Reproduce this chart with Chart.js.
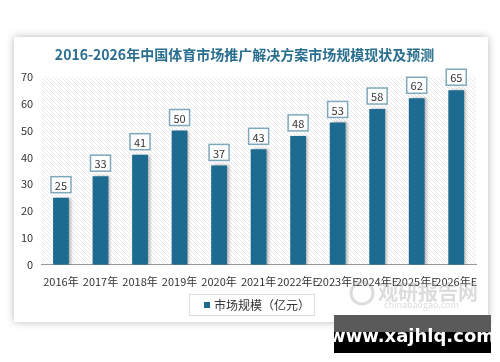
<!DOCTYPE html>
<html lang="zh">
<head>
    <meta charset="UTF-8">
    <title>中国体育市场推广解决方案市场规模</title>
    <script src="https://cdn.jsdelivr.net/npm/chart.js"></script>
    <style>
        html, body { margin: 0; padding: 0; background: #fff; }
        #wrap { width: 500px; height: 362px; position: relative; }
    </style>
</head>
<body>
    <div id="wrap"><canvas id="marketChart" width="500" height="362"></canvas></div>

    <script>
        // chart data
        const years = ["2016年", "2017年", "2018年", "2019年", "2020年", "2021年", "2022年E", "2023年E", "2024年E", "2025年E", "2026年E"];
        const marketSize = [25, 33, 41, 50, 37, 43, 48, 53, 58, 62, 65];
        const yTicks = [0, 10, 20, 30, 40, 50, 60, 70];

        const barColor = "#1d6b90";
        const fontCJK = "'Noto Sans CJK SC', 'Noto Sans', sans-serif";

        // diagonal hatch for the plot background
        function makeHatch(ctx) {
            const c = document.createElement("canvas");
            c.width = 4; c.height = 4;
            const p = c.getContext("2d");
            p.fillStyle = "#ffffff";
            p.fillRect(0, 0, 4, 4);
            p.strokeStyle = "#e8e8e8";
            p.lineWidth = 1;
            p.beginPath();
            p.moveTo(0, 0); p.lineTo(4, 4);
            p.moveTo(-1, 3); p.lineTo(1, 5);
            p.moveTo(3, -1); p.lineTo(5, 1);
            p.stroke();
            return ctx.createPattern(c, "repeat");
        }

        const decor = {
            id: "decor",
            beforeDraw(chart) {
                const ctx = chart.ctx;
                const a = chart.chartArea;
                ctx.save();
                // card with soft shadow
                ctx.fillStyle = "#ffffff";
                ctx.shadowColor = "rgba(0,0,0,0.28)";
                ctx.shadowBlur = 8;
                ctx.fillRect(14, 37, 474, 285);
                ctx.restore();
                ctx.save();
                ctx.fillStyle = makeHatch(ctx);
                ctx.fillRect(a.left, a.top, a.right - a.left, a.bottom - a.top);
                ctx.restore();
            },
            beforeDatasetsDraw(chart) {
                const ctx = chart.ctx;
                ctx.save();
                ctx.shadowColor = "rgba(0,0,0,0.3)";
                ctx.shadowBlur = 3;
                ctx.shadowOffsetX = 2;
                ctx.shadowOffsetY = 0;
            },
            afterDatasetsDraw(chart) {
                const ctx = chart.ctx;
                ctx.restore();
                // value labels in boxes
                const meta = chart.getDatasetMeta(0);
                ctx.save();
                ctx.font = "11px " + fontCJK;
                ctx.textAlign = "center";
                ctx.textBaseline = "middle";
                meta.data.forEach((bar, i) => {
                    const cx = bar.x;
                    const cy = bar.y - 13;
                    ctx.fillStyle = "#ffffff";
                    ctx.fillRect(cx - 10, cy - 8, 20, 16);
                    ctx.strokeStyle = "#7ea8bc";
                    ctx.lineWidth = 1.5;
                    ctx.strokeRect(cx - 10, cy - 8, 20, 16);
                    ctx.fillStyle = "#333333";
                    ctx.fillText(marketSize[i], cx, cy + 1);
                });
                ctx.restore();
            },
            afterDraw(chart) {
                const ctx = chart.ctx;
                const ds = chart.data.datasets[0];
                ctx.save();
                // legend: frame, marker, label
                ctx.strokeStyle = "#dcdcdc";
                ctx.lineWidth = 1;
                ctx.strokeRect(189.5, 294.5, 125, 21);
                ctx.fillStyle = ds.backgroundColor;
                ctx.fillRect(204, 302, 6, 6);
                ctx.fillStyle = "#333";
                ctx.font = "12px " + fontCJK;
                ctx.textAlign = "left";
                ctx.textBaseline = "middle";
                ctx.fillText(ds.label, 214, 305);
                // faint site mark
                ctx.globalAlpha = 0.35;
                ctx.fillStyle = "#9a9a9a";
                ctx.font = "bold 20px " + fontCJK;
                ctx.fillText("观研报告网", 378, 292);
                ctx.font = "9px " + fontCJK;
                ctx.fillText("chinabaogao.com", 384, 305);
                ctx.beginPath();
                ctx.arc(362, 293, 11, 0, Math.PI * 2);
                ctx.lineWidth = 3;
                ctx.strokeStyle = "#9a9a9a";
                ctx.stroke();
                ctx.globalAlpha = 1;
                // black banner
                ctx.fillStyle = "#000000";
                ctx.fillRect(334, 315, 157, 38);
                ctx.fillStyle = "#5a5a5a";
                ctx.fillRect(334, 315, 157, 17);
                ctx.fillStyle = "#ffffff";
                ctx.font = "bold 18px 'DejaVu Sans', sans-serif";
                ctx.textAlign = "center";
                ctx.fillText("www.xajhlq.com", 412, 337);
                ctx.restore();
            }
        };

        const ctx = document.getElementById("marketChart").getContext("2d");
        new Chart(ctx, {
            type: "bar",
            data: {
                labels: years,
                datasets: [{
                    label: "市场规模（亿元）",
                    data: marketSize,
                    backgroundColor: barColor,
                    borderWidth: 0,
                    barPercentage: 0.4,
                    categoryPercentage: 1
                }]
            },
            options: {
                responsive: false,
                animation: false,
                layout: { padding: { left: 13, right: 24, top: 12, bottom: 64 } },
                plugins: {
                    title: {
                        display: true,
                        text: "2016-2026年中国体育市场推广解决方案市场规模现状及预测",
                        color: "#2a6f8f",
                        font: { family: fontCJK, size: 14, weight: "bold" },
                        padding: { top: 34, bottom: 14 }
                    },
                    legend: { display: false },
                    tooltip: { enabled: false }
                },
                scales: {
                    x: {
                        grid: { display: false, drawTicks: false },
                        border: { color: "#999", width: 1 },
                        ticks: {
                            color: "#333",
                            font: { family: fontCJK, size: 11 },
                            maxRotation: 0,
                            autoSkip: false,
                            padding: 10
                        }
                    },
                    y: {
                        min: 0,
                        max: 70,
                        afterBuildTicks: (s) => { s.ticks = yTicks.map(v => ({ value: v })); },
                        grid: { display: false, drawTicks: false },
                        border: { display: false },
                        ticks: {
                            color: "#333",
                            font: { family: fontCJK, size: 11 },
                            padding: 8
                        }
                    }
                }
            },
            plugins: [decor]
        });
    </script>
</body>
</html>
